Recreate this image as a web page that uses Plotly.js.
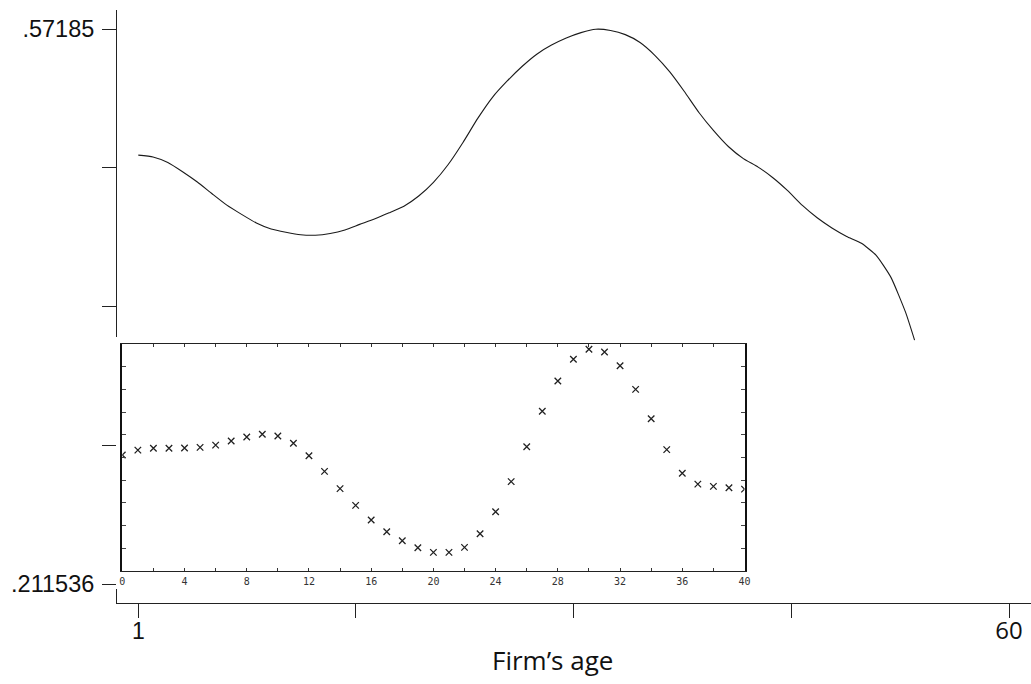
<!DOCTYPE html>
<html>
<head>
<meta charset="utf-8">
<script src="https://cdn.plot.ly/plotly-3.0.1.min.js"></script>
<style>html,body{margin:0;padding:0;background:#fff;}#chart{width:1031px;height:684px;}</style>
</head>
<body>
<div id="chart"></div>
<script>
// Main curve: firm's age vs. estimated effect
const ages = [1,2,3,4,5,6,7,8,9,10,11,12,13,14,15,16,17,18,19,20,21,22,23,24,25,26,27,28,29,30,31,32,33,34,35,36,37,38,39,40,41,42,43,44,45,46,47,48,49,50,51,52,53,53.6];
const effect = [.4900,.4888,.4852,.4792,.4725,.4649,.4575,.4515,.4459,.4420,.4399,.4383,.4380,.4391,.4414,.4450,.4485,.4525,.4568,.4634,.4723,.4839,.4982,.5138,.5275,.5381,.5475,.5555,.5614,.5660,.5695,.5717,.5709,.5682,.5631,.5548,.5442,.5313,.5175,.5057,.4954,.4877,.4822,.4753,.4669,.4573,.4493,.4427,.4372,.4327,.4249,.4106,.3877,.3699];

// Main axis ticks
const yTickVals = [.211536,.301615,.391693,.481772,.57185];
const yTickText = ['.211536','','','','.57185'];
const xTickVals = [1,15.75,30.5,45.25,60];
const xTickText = ['1','','','','<span style="font-family:\'Open Sans\';font-size:24px">60</span>'];
const xTitle = 'Firm’s age';

// Inset: crosses (unlabelled y scale)
const insetX = [0,1,2,3,4,5,6,7,8,9,10,11,12,13,14,15,16,17,18,19,20,21,22,23,24,25,26,27,28,29,30,31,32,33,34,35,36,37,38,39,40];
const insetY = [5.10,5.32,5.40,5.40,5.41,5.44,5.54,5.72,5.90,6.02,5.94,5.62,5.07,4.38,3.62,2.88,2.24,1.72,1.32,1.01,0.81,0.81,1.03,1.63,2.60,3.93,5.47,7.03,8.37,9.33,9.77,9.65,9.04,8.00,6.70,5.34,4.30,3.82,3.72,3.66,3.60];
const insetXTicks = [0,2,4,6,8,10,12,14,16,18,20,22,24,26,28,30,32,34,36,38,40];
const insetXText = insetXTicks.map(v => v % 4 === 0 ? String(v) : '');
const insetYTicks = [0,1,2,3,4,5,6,7,8,9,10];

const traces = [
  {x: ages, y: effect, type: 'scatter', mode: 'lines',
   line: {color: '#1a1a1a', width: 1.1, shape: 'spline', smoothing: 0.5},
   xaxis: 'x', yaxis: 'y', hoverinfo: 'skip', showlegend: false},
  // white mask panel behind the inset
  {x: [0], y: [0], type: 'scatter', mode: 'markers', marker: {opacity: 0},
   xaxis: 'x2', yaxis: 'y2', hoverinfo: 'skip', showlegend: false},
  {x: insetX, y: insetY, type: 'scatter', mode: 'markers',
   marker: {symbol: 'x-thin', size: 6.5, line: {width: 1.3, color: '#222'}, color: '#222'},
   xaxis: 'x3', yaxis: 'y3', hoverinfo: 'skip', showlegend: false}
];

const layout = {
  width: 1031, height: 684,
  margin: {l: 100, r: 0, t: 10, b: 81},
  paper_bgcolor: '#fff', plot_bgcolor: '#fff',
  showlegend: false,
  xaxis: {
    domain: [0.01826, 1], range: [-0.443, 61.49],
    showline: true, linecolor: '#222', linewidth: 1,
    showgrid: false, zeroline: false,
    ticks: 'outside', ticklen: 14, tickwidth: 1, tickcolor: '#222',
    tickmode: 'array', tickvals: xTickVals, ticktext: xTickText,
    tickfont: {family: 'Liberation Sans, Arial, sans-serif', size: 23, color: '#111'},
    ticklabelstandoff: -7
  },
  yaxis: {
    domain: [0, 1], range: [0.19920, 0.58419], anchor: 'x',
    showline: true, linecolor: '#222', linewidth: 1,
    showgrid: false, zeroline: false,
    ticks: 'outside', ticklen: 14, tickwidth: 1, tickcolor: '#222',
    tickmode: 'array', tickvals: yTickVals, ticktext: yTickText,
    tickfont: {family: 'Liberation Sans, Arial, sans-serif', size: 23.5, color: '#111'},
    ticklabelstandoff: 3
  },
  xaxis2: {domain: [0.01718, 0.69817], range: [0, 1], visible: false, anchor: 'y2'},
  yaxis2: {domain: [0.02361, 0.44857], range: [0, 1], visible: false, anchor: 'x2'},
  xaxis3: {
    domain: [0.02395, 0.69227], range: [0, 40], anchor: 'y3',
    showline: true, linecolor: '#222', linewidth: 1, mirror: 'ticks',
    showgrid: false, zeroline: false,
    ticks: 'inside', ticklen: 3, tickwidth: 1, tickcolor: '#333',
    tickmode: 'array', tickvals: insetXTicks, ticktext: insetXText,
    tickfont: {family: 'DejaVu Sans Mono, monospace', size: 10, color: '#333'},
    ticklabelstandoff: 1
  },
  yaxis3: {
    domain: [0.05447, 0.43676], range: [0, 10], anchor: 'x3',
    showline: true, linecolor: '#111', linewidth: 2, mirror: 'ticks',
    showgrid: false, zeroline: false,
    ticks: 'inside', ticklen: 4, tickwidth: 1, tickcolor: '#444',
    tickmode: 'array', tickvals: insetYTicks, showticklabels: false
  },
  annotations: [
    {text: xTitle, xref: 'paper', yref: 'paper', x: 0.4855, y: -0.0961,
     xanchor: 'center', yanchor: 'middle', showarrow: false,
     font: {family: 'Open Sans, sans-serif', size: 26, color: '#111'}}
  ]
};

Plotly.newPlot('chart', traces, layout, {staticPlot: true, displayModeBar: false});
</script>
</body>
</html>
